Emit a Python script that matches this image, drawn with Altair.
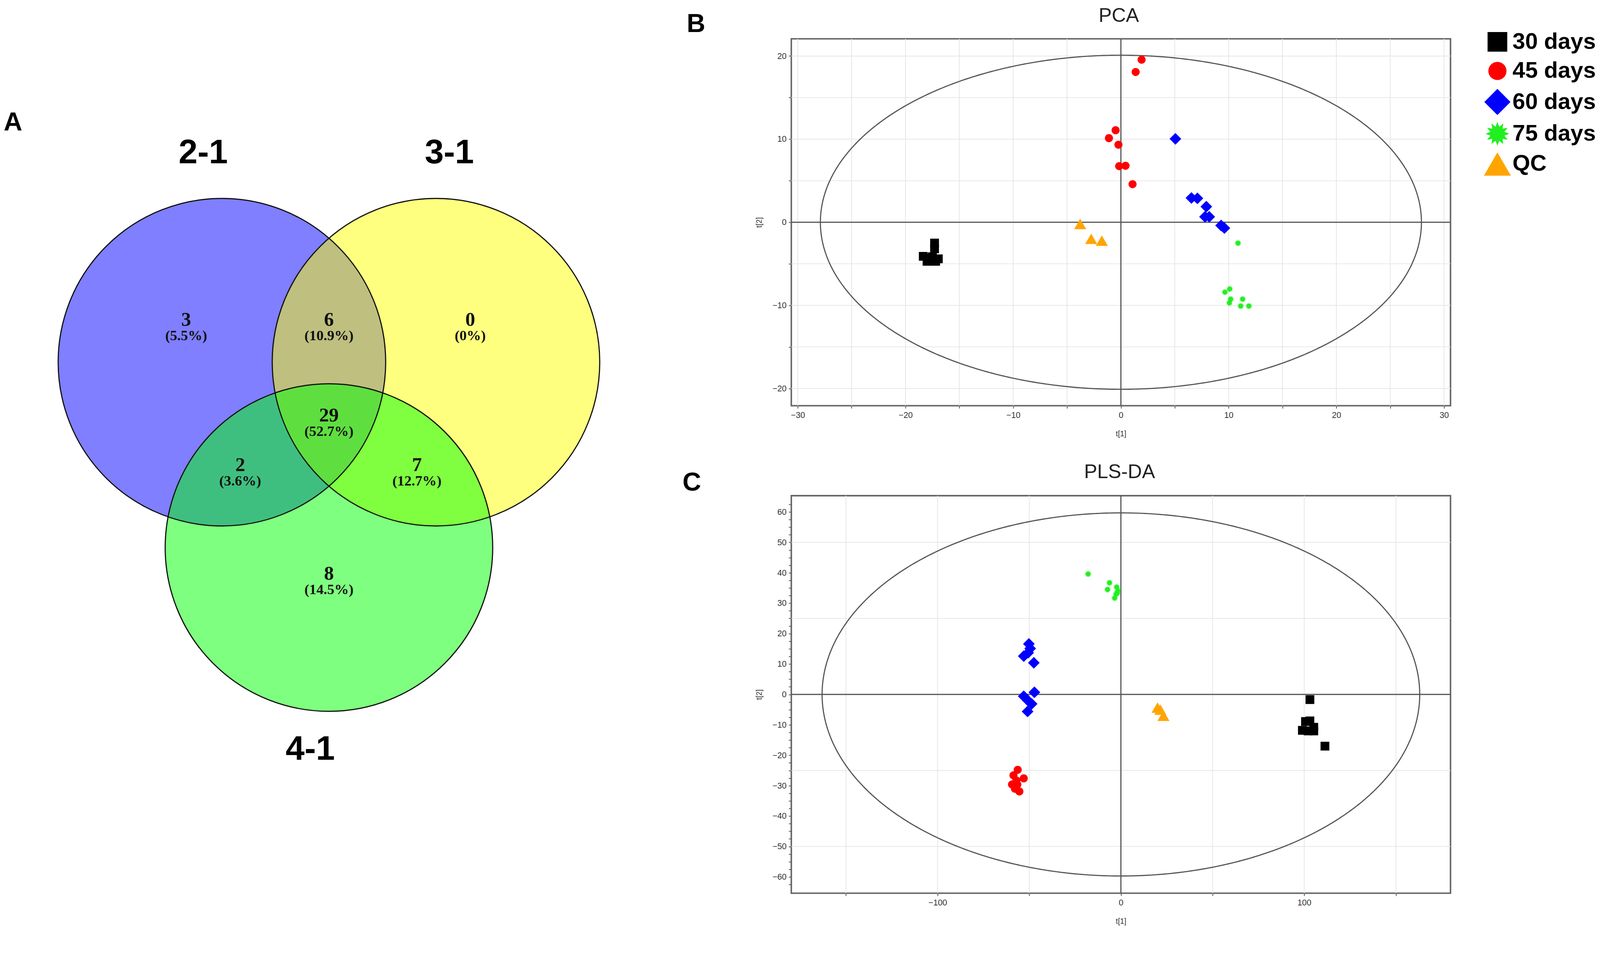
import math
import altair as alt
import pandas as pd

# ---------------- Panel A : Venn diagram ----------------
venn_sets = ["2-1", "3-1", "4-1"]
venn_colors = ["#0000ff", "#ffff00", "#00ff00"]
venn_cx = [-1.0, 1.0, 0.0]          # set centres (venn units)
venn_cy = [0.0, 0.0, -1.732]
venn_label_x = [-1.175, 1.125, -0.175]
venn_label_y = [1.954, 1.954, -3.618]
region_counts = [3, 6, 0, 29, 2, 7, 8]
region_pcts = ["(5.5%)", "(10.9%)", "(0%)", "(52.7%)", "(3.6%)", "(12.7%)", "(14.5%)"]
region_x = [-1.334, 0.0, 1.32, 0.0, -0.829, 0.822, 0.0]
region_y = [0.396, 0.396, 0.396, -0.498, -0.961, -0.961, -1.975]

# ---------------- Panels B / C : score plots ----------------
groups = ["30 days", "45 days", "60 days", "75 days", "QC"]
group_colors = ["#000000", "#ff0000", "#0000ff", "#22ee22", "#ffa500"]

pca_30_t1 = [-17.3, -17.3, -18.35, -18.0, -17.5, -16.95, -17.2, -17.8]
pca_30_t2 = [-2.5, -3.2, -4.1, -4.7, -4.15, -4.4, -4.7, -4.3]
pca_45_t1 = [1.92, 1.37, -0.49, -1.11, -0.23, -0.16, 0.43, 1.08]
pca_45_t2 = [19.56, 18.08, 11.07, 10.12, 9.33, 6.75, 6.80, 4.58]
pca_60_t1 = [5.06, 6.55, 7.10, 7.93, 7.81, 8.20, 9.30, 9.61]
pca_60_t2 = [10.03, 2.92, 2.88, 1.88, 0.66, 0.66, -0.39, -0.70]
pca_75_t1 = [10.87, 9.66, 10.1, 10.19, 10.07, 11.3, 11.12, 11.88]
pca_75_t2 = [-2.51, -8.41, -8.03, -9.25, -9.70, -9.25, -10.08, -10.08]
pca_qc_t1 = [-3.78, -2.76, -1.77]
pca_qc_t2 = [-0.21, -1.99, -2.22]

pls_30_t1 = [103.1, 100.7, 103.1, 99.0, 102.1, 105.2, 105.2, 111.3]
pls_30_t2 = [-1.7, -8.9, -8.7, -11.8, -12.0, -10.8, -12.0, -17.0]
pls_45_t1 = [-56.3, -58.6, -53.0, -57.0, -59.4, -56.5, -57.8, -55.4]
pls_45_t2 = [-24.8, -26.6, -27.6, -28.3, -29.6, -29.6, -31.0, -31.9]
pls_60_t1 = [-50.2, -49.5, -50.6, -53.0, -47.5, -47.2, -53.0, -50.9, -48.7, -50.9]
pls_60_t2 = [16.6, 15.1, 13.7, 12.6, 10.4, 0.7, -0.6, -1.9, -3.1, -5.6]
pls_75_t1 = [-17.9, -6.2, -7.3, -2.3, -1.6, -2.6, -3.4, -1.9]
pls_75_t2 = [39.6, 36.7, 34.5, 35.3, 34.1, 33.0, 31.7, 33.4]
pls_qc_t1 = [20.0, 21.5, 23.2]
pls_qc_t2 = [-4.3, -5.0, -7.0]

# axis ticks / gridlines
pca_x_ticks = [-30, -25, -20, -15, -10, -5, 0, 5, 10, 15, 20, 25, 30]
pca_y_ticks = [-20, -15, -10, -5, 0, 5, 10, 15, 20]
pca_grid_x = pca_x_ticks
pca_grid_y = pca_y_ticks
pls_x_ticks = [-150, -100, -50, 0, 50, 100, 150]
pls_y_ticks = [v * 2.5 for v in range(-25, 26)]
pls_grid_x = [-150, -100, -50, 50, 100, 150]
pls_grid_y = [-50, -25, 25, 50]

# Hotelling T2 ellipse semi-axes
pca_ellipse = (27.9, 20.1)
pls_ellipse = (163.0, 59.7)

# ---------------- styles ----------------
SANS = "Liberation Sans, Arial, sans-serif"
SERIF = "Liberation Serif, Times New Roman, serif"
NARROW = "Liberation Sans Narrow, Liberation Sans, Arial, sans-serif"

SQUARE = "M-1,-1L1,-1L1,1L-1,1Z"
CIRCLE = "M0.92,0A0.92,0.92,0,1,1,-0.92,0A0.92,0.92,0,1,1,0.92,0Z"
DIAMOND = "M0,-1.33L1.33,0L0,1.33L-1.33,0Z"
TRIANGLE = "M0,-1.19L1.37,1.19L-1.37,1.19Z"
_pts = []
for k in range(24):
    r = 1.21 if k % 2 == 0 else 0.74
    ang = math.pi * k / 12 - math.pi / 2
    _pts.append(f"{r * math.cos(ang):.3f},{r * math.sin(ang):.3f}")
STAR = "M" + "L".join(_pts) + "Z"
shape_paths = [SQUARE, CIRCLE, DIAMOND, STAR, TRIANGLE]

# ---------------- Venn chart ----------------
VW, VH = 1730, 2258
vx = alt.Scale(domain=[-3.0371, 3.0760], nice=False, zero=False)
vy = alt.Scale(domain=[-4.9576, 3.0212], nice=False, zero=False)
CIRCLE_SIZE = 749956

sets_df = pd.DataFrame({"set": venn_sets, "cx": venn_cx, "cy": venn_cy,
                        "lx": venn_label_x, "ly": venn_label_y})
reg_df = pd.DataFrame({"count": region_counts, "pct": region_pcts,
                       "rx": region_x, "ry": region_y})

fills = alt.Chart(sets_df).mark_point(
    shape="circle", filled=True, size=CIRCLE_SIZE, opacity=1, fillOpacity=0.5, strokeWidth=0
).encode(
    x=alt.X("cx:Q", scale=vx, axis=None),
    y=alt.Y("cy:Q", scale=vy, axis=None),
    fill=alt.Fill("set:N", scale=alt.Scale(domain=venn_sets, range=venn_colors), legend=None),
)
outlines = alt.Chart(sets_df).mark_point(
    shape="circle", filled=False, size=CIRCLE_SIZE, opacity=1, strokeWidth=3, color="#111111"
).encode(x=alt.X("cx:Q", scale=vx, axis=None), y=alt.Y("cy:Q", scale=vy, axis=None))
set_labels = alt.Chart(sets_df).mark_text(
    font=SANS, fontWeight="bold", fontSize=90, color="black", baseline="middle"
).encode(x=alt.X("lx:Q", scale=vx, axis=None), y=alt.Y("ly:Q", scale=vy, axis=None), text="set:N")
counts = alt.Chart(reg_df).mark_text(
    font=SERIF, fontWeight="bold", fontSize=52, color="#111111", baseline="middle"
).encode(x=alt.X("rx:Q", scale=vx, axis=None), y=alt.Y("ry:Q", scale=vy, axis=None), text="count:N")
pcts = alt.Chart(reg_df).mark_text(
    font=SERIF, fontWeight="bold", fontSize=38, color="#111111", baseline="middle", dy=43
).encode(x=alt.X("rx:Q", scale=vx, axis=None), y=alt.Y("ry:Q", scale=vy, axis=None), text="pct:N")
letter_a = alt.Chart(pd.DataFrame({"label": ["A"]})).mark_text(
    font=SANS, fontWeight="bold", fontSize=68, color="black", baseline="middle", align="center"
).encode(x=alt.value(24), y=alt.value(222), text="label:N")
top_helper = alt.Chart(pd.DataFrame({"label": ["top"]})).mark_rule(color="white", strokeWidth=1).encode(
    x=alt.value(0), x2=alt.value(2), y=alt.value(-95), y2=alt.value(-95)
)

venn = alt.layer(top_helper, fills, outlines, set_labels, counts, pcts, letter_a).properties(
    width=VW, height=VH, view=alt.ViewBackground(stroke="transparent")
)


# ---------------- score panels ----------------
def scores_frame(t1s, t2s):
    rows = []
    for g, xs, ys in zip(groups, t1s, t2s):
        rows += [{"group": g, "t1": a, "t2": b} for a, b in zip(xs, ys)]
    return pd.DataFrame(rows)


def score_panel(df, xdom, ydom, xticks, yticks, xgrid, ygrid, xmod, ymod, ell, title,
                tpos, letter, lpos, width, height, legend):
    xs = alt.Scale(domain=xdom, nice=False, zero=False)
    ys = alt.Scale(domain=ydom, nice=False, zero=False)
    common = dict(grid=False, domain=False, tickSize=7, tickWidth=2, tickColor="#555555",
                  labelFont=NARROW, labelFontSize=22, labelColor="#333333", labelOverlap=False,
                  labelFlush=False, titleFont=SANS, titleFontSize=20, titleFontWeight="normal",
                  titleColor="#333333")
    xaxis = alt.Axis(values=xticks, title="t[1]", labelPadding=8, titlePadding=28,
                     labelExpr=f"datum.value % {xmod} === 0 ? datum.label : ''", **common)
    yaxis = alt.Axis(values=yticks, title="t[2]", labelPadding=6, titlePadding=24,
                     labelExpr=f"datum.value % {ymod} === 0 ? datum.label : ''", **common)
    color = alt.Color("group:N", scale=alt.Scale(domain=groups, range=group_colors), legend=legend)
    shape = alt.Shape("group:N", scale=alt.Scale(domain=groups, range=shape_paths), legend=legend)

    gx = alt.Chart(pd.DataFrame({"v": xgrid})).mark_rule(color="#e6e6e6", strokeWidth=2).encode(
        x=alt.X("v:Q", scale=xs, axis=xaxis))
    gy = alt.Chart(pd.DataFrame({"v": ygrid})).mark_rule(color="#e6e6e6", strokeWidth=2).encode(
        y=alt.Y("v:Q", scale=ys, axis=yaxis))
    zx = alt.Chart(pd.DataFrame({"v": [0]})).mark_rule(color="#555555", strokeWidth=3).encode(
        x=alt.X("v:Q", scale=xs, axis=xaxis))
    zy = alt.Chart(pd.DataFrame({"v": [0]})).mark_rule(color="#555555", strokeWidth=3).encode(
        y=alt.Y("v:Q", scale=ys, axis=yaxis))
    ellipse = alt.Chart(alt.sequence(0, 6.30, 0.01, as_="t")).transform_calculate(
        ex=f"{ell[0]} * cos(datum.t)", ey=f"{ell[1]} * sin(datum.t)"
    ).mark_line(color="#555555", strokeWidth=3).encode(
        x=alt.X("ex:Q", scale=xs, axis=xaxis), y=alt.Y("ey:Q", scale=ys, axis=yaxis), order="t:Q")
    big = alt.Chart(df[df["group"] != "75 days"]).mark_point(
        filled=True, opacity=1, strokeWidth=0, size=540
    ).encode(x=alt.X("t1:Q", scale=xs, axis=xaxis), y=alt.Y("t2:Q", scale=ys, axis=yaxis),
             color=color, shape=shape)
    small = alt.Chart(df[df["group"] == "75 days"]).mark_point(
        filled=True, opacity=1, strokeWidth=0, size=230
    ).encode(x=alt.X("t1:Q", scale=xs, axis=xaxis), y=alt.Y("t2:Q", scale=ys, axis=yaxis),
             color=color, shape=shape)
    ttl = alt.Chart(pd.DataFrame({"label": [title]})).mark_text(
        font=SANS, fontSize=52, color="#222222", baseline="alphabetic", align="center"
    ).encode(x=alt.value(tpos[0]), y=alt.value(tpos[1]), text="label:N")
    let = alt.Chart(pd.DataFrame({"label": [letter]})).mark_text(
        font=SANS, fontWeight="bold", fontSize=68, color="black", baseline="middle", align="center"
    ).encode(x=alt.value(lpos[0]), y=alt.value(lpos[1]), text="label:N")
    return alt.layer(gx, gy, zx, zy, ellipse, big, small, ttl, let).properties(
        width=width, height=height,
        view=alt.ViewBackground(stroke="#666666", strokeWidth=4),
    )


legend = alt.Legend(title=None, orient="none", legendX=1837, legendY=-22, symbolSize=2704,
                    symbolStrokeWidth=0, labelFont=SANS, labelFontSize=60, labelFontWeight="bold",
                    labelColor="black", labelOffset=10, rowPadding=17, padding=0, labelLimit=500)

pca_df = scores_frame([pca_30_t1, pca_45_t1, pca_60_t1, pca_75_t1, pca_qc_t1],
                      [pca_30_t2, pca_45_t2, pca_60_t2, pca_75_t2, pca_qc_t2])
pls_df = scores_frame([pls_30_t1, pls_45_t1, pls_60_t1, pls_75_t1, pls_qc_t1],
                      [pls_30_t2, pls_45_t2, pls_60_t2, pls_75_t2, pls_qc_t2])

pca = score_panel(pca_df, [-30.6, 30.6], [-22.07, 22.07], pca_x_ticks, pca_y_ticks,
                  pca_grid_x, pca_grid_y, 10, 10, pca_ellipse, "PCA", (866, -45),
                  "B", (-252, -38), 1743, 970, legend)
pls = score_panel(pls_df, [-179.8, 179.8], [-65.35, 65.35], pls_x_ticks, pls_y_ticks,
                  pls_grid_x, pls_grid_y, 100, 10, pls_ellipse, "PLS-DA", (868, -46),
                  "C", (-263, -33), 1743, 1051, None)

right = alt.vconcat(pca, pls, spacing=238, bounds="flush").resolve_scale(
    color="independent", shape="independent", x="independent", y="independent")

chart = alt.hconcat(venn, right, spacing=352, bounds="flush").resolve_scale(
    color="independent", shape="independent", fill="independent"
).properties(padding={"top": -41, "left": 0, "right": 0, "bottom": 0})

chart.save("out.html", embed_options={"renderer": "svg", "actions": False})
